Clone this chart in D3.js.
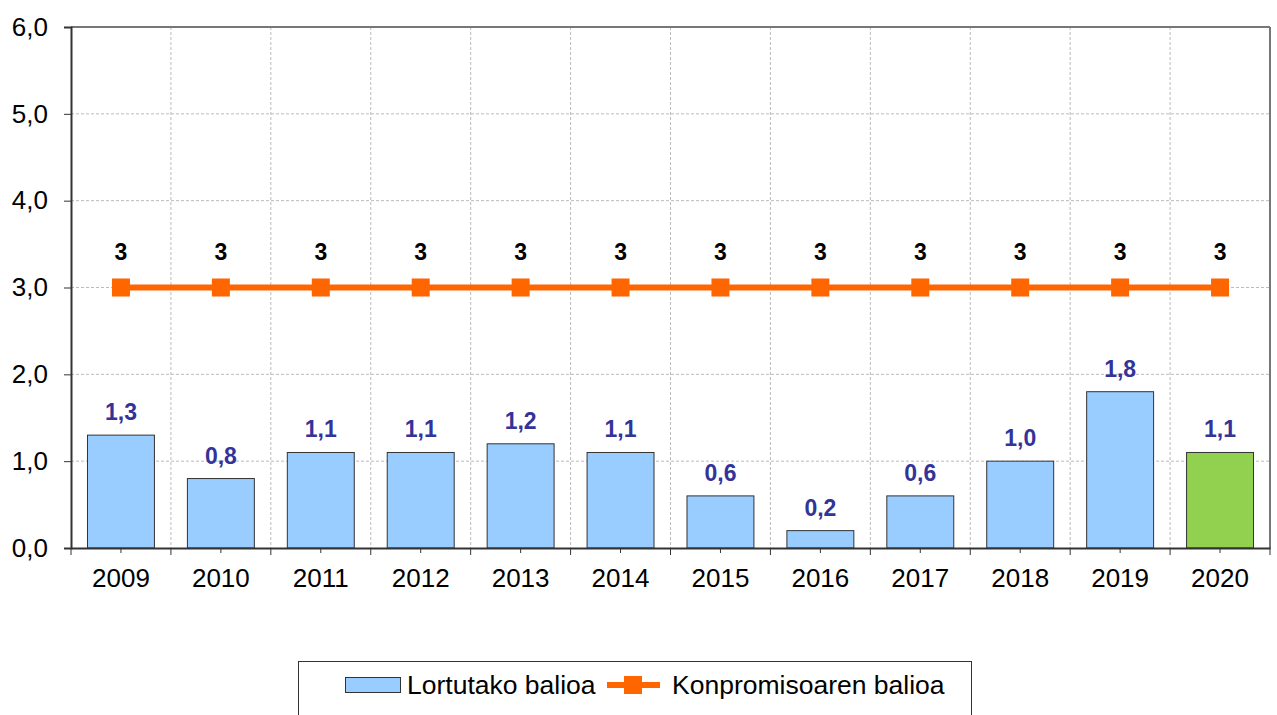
<!DOCTYPE html>
<html>
<head>
<meta charset="utf-8"/>
<style>
body{margin:0;background:#fff;font-family:Arial,"Liberation Sans",sans-serif;}
svg text{font-family:Arial,"Liberation Sans",sans-serif;}
</style>
</head>
<body>
<svg width="1277" height="715"></svg>
<script src="https://cdn.jsdelivr.net/npm/d3@7"></script>
<script>

var years = ["2009","2010","2011","2012","2013","2014","2015","2016","2017","2018","2019","2020"];
var achieved = [1.3, 0.8, 1.1, 1.1, 1.2, 1.1, 0.6, 0.2, 0.6, 1.0, 1.8, 1.1];
var commitment = [3, 3, 3, 3, 3, 3, 3, 3, 3, 3, 3, 3];
var yTicks = [0, 1, 2, 3, 4, 5, 6];
var seriesNames = ["Lortutako balioa", "Konpromisoaren balioa"];

var svg = d3.select("svg"),
    pLeft = 71, pRight = 1270, pTop = 27, pBottom = 548;

var x = d3.scaleBand().domain(years).range([pLeft, pRight]).paddingInner(0.33).paddingOuter(0.165);
var xb = d3.scaleBand().domain(years).range([pLeft, pRight]);
var y = d3.scaleLinear().domain([0, 6]).range([pBottom, pTop]);
var fmt = function(v) { return d3.format(".1f")(v).replace(".", ","); };

// grid
svg.append("g").selectAll("line")
  .data(yTicks.slice(1, -1))
  .enter().append("line")
    .attr("x1", pLeft).attr("x2", pRight)
    .attr("y1", function(d) { return y(d); }).attr("y2", function(d) { return y(d); })
    .attr("stroke", "#bbb").attr("stroke-dasharray", "3,2");
svg.append("g").selectAll("line")
  .data(years.slice(1))
  .enter().append("line")
    .attr("x1", function(d) { return xb(d); }).attr("x2", function(d) { return xb(d); })
    .attr("y1", pTop).attr("y2", pBottom)
    .attr("stroke", "#bbb").attr("stroke-dasharray", "3,2");

// frame top/right
svg.append("line").attr("x1", pLeft).attr("x2", pRight).attr("y1", pTop).attr("y2", pTop)
  .attr("stroke", "#777").attr("stroke-width", 2);
svg.append("line").attr("x1", pRight).attr("x2", pRight).attr("y1", pTop).attr("y2", pBottom)
  .attr("stroke", "#777").attr("stroke-width", 2);

// bars
svg.append("g").selectAll("rect")
  .data(achieved)
  .enter().append("rect")
    .attr("x", function(d, i) { return x(years[i]); })
    .attr("y", function(d) { return y(d); })
    .attr("width", x.bandwidth())
    .attr("height", function(d) { return pBottom - y(d); })
    .attr("fill", function(d, i) { return i === years.length - 1 ? "#92D050" : "#99CCFF"; })
    .attr("stroke", "#333").attr("stroke-width", 1);

svg.append("g").selectAll("text")
  .data(achieved)
  .enter().append("text")
    .attr("x", function(d, i) { return x(years[i]) + x.bandwidth() / 2; })
    .attr("y", function(d) { return y(d) - 15; })
    .attr("text-anchor", "middle")
    .attr("font-size", 23).attr("font-weight", "bold").attr("fill", "#333399")
    .text(fmt);

// axes
var yAxis = svg.append("g").attr("transform", "translate(" + pLeft + ",0)")
  .call(d3.axisLeft(y).tickValues(yTicks).tickFormat(fmt).tickSize(7).tickPadding(16));
yAxis.select(".domain").attr("stroke", "#333").attr("stroke-width", 2);
yAxis.selectAll(".tick line").attr("stroke", "#333");
yAxis.selectAll("text").attr("font-size", 26).attr("fill", "#000");

var xAxis = svg.append("g").attr("transform", "translate(0," + pBottom + ")")
  .call(d3.axisBottom(xb).tickSize(0).tickPadding(21));
xAxis.select(".domain").attr("stroke", "#333").attr("stroke-width", 2);
xAxis.selectAll("text").attr("font-size", 26).attr("fill", "#000");
xAxis.selectAll(".bt")
  .data(years.concat(["end"]))
  .enter().append("line")
    .attr("x1", function(d, i) { return pLeft + i * xb.bandwidth(); })
    .attr("x2", function(d, i) { return pLeft + i * xb.bandwidth(); })
    .attr("y1", 0).attr("y2", 7).attr("stroke", "#333");
xAxis.selectAll(".ct")
  .data(years)
  .enter().append("line")
    .attr("x1", function(d) { return xb(d) + xb.bandwidth() / 2; })
    .attr("x2", function(d) { return xb(d) + xb.bandwidth() / 2; })
    .attr("y1", 0).attr("y2", 5).attr("stroke", "#333");

// commitment line
var line = d3.line()
  .x(function(d, i) { return xb(years[i]) + xb.bandwidth() / 2; })
  .y(function(d) { return y(d); });
svg.append("path").datum(commitment)
  .attr("d", line).attr("fill", "none").attr("stroke", "#FF6600").attr("stroke-width", 6);
svg.append("g").selectAll("rect")
  .data(commitment)
  .enter().append("rect")
    .attr("x", function(d, i) { return xb(years[i]) + xb.bandwidth() / 2 - 9; })
    .attr("y", function(d) { return y(d) - 9; })
    .attr("width", 18).attr("height", 18).attr("fill", "#FF6600");
svg.append("g").selectAll("text")
  .data(commitment)
  .enter().append("text")
    .attr("x", function(d, i) { return xb(years[i]) + xb.bandwidth() / 2; })
    .attr("y", function(d) { return y(d) - 28; })
    .attr("text-anchor", "middle")
    .attr("font-size", 23).attr("font-weight", "bold").attr("fill", "#000")
    .text(function(d) { return d; });

// legend
var lg = svg.append("g");
lg.append("rect").attr("x", 298.5).attr("y", 661.5).attr("width", 673).attr("height", 70)
  .attr("fill", "#fff").attr("stroke", "#333");
lg.append("rect").attr("x", 345.5).attr("y", 677.5).attr("width", 55).attr("height", 15)
  .attr("fill", "#99CCFF").attr("stroke", "#333");
lg.append("text").attr("x", 407).attr("y", 694).attr("font-size", 26.5).text(seriesNames[0]);
lg.append("line").attr("x1", 607).attr("x2", 660).attr("y1", 685).attr("y2", 685)
  .attr("stroke", "#FF6600").attr("stroke-width", 6);
lg.append("rect").attr("x", 624).attr("y", 676).attr("width", 18).attr("height", 18).attr("fill", "#FF6600");
lg.append("text").attr("x", 672).attr("y", 694).attr("font-size", 26.5).text(seriesNames[1]);

</script>
</body>
</html>
